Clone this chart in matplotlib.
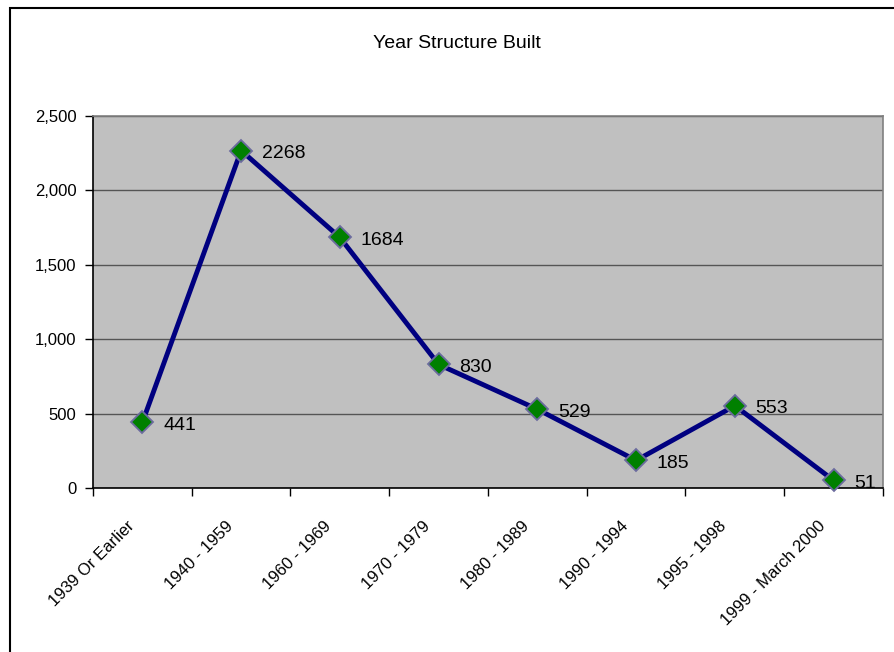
import matplotlib
matplotlib.use("Agg")
from matplotlib import pyplot as plt
from matplotlib.patches import Rectangle
from matplotlib.ticker import FuncFormatter
from matplotlib.transforms import ScaledTranslation

plt.rcParams['font.family'] = ['Liberation Sans Narrow', 'Liberation Sans', 'DejaVu Sans']

categories = ['1939 Or Earlier', '1940 - 1959', '1960 - 1969', '1970 - 1979',
              '1980 - 1989', '1990 - 1994', '1995 - 1998', '1999 - March 2000']
units = [441, 2268, 1684, 830, 529, 185, 553, 51]
y_ticks = [0, 500, 1000, 1500, 2000, 2500]

fig = plt.figure(figsize=(8.95, 6.52), dpi=100)

# outer chart frame (left/top edges visible)
fig.patches.append(Rectangle((10 / 895, -0.05), 1.1, 1 - 8 / 652 + 0.05,
                             transform=fig.transFigure, fill=False,
                             edgecolor='black', linewidth=1.5))

ax = fig.add_axes([93 / 895, 1 - 488 / 652, 790 / 895, 372 / 652])
ax.set_facecolor('#C0C0C0')

x = list(range(len(categories)))
ax.plot(x, units, color='#000080', linewidth=3.5, marker='D', markersize=11,
        markerfacecolor='#008000', markeredgecolor='#6B6B9E', markeredgewidth=1.3,
        zorder=3, clip_on=False)

for xi, v in zip(x, units):
    ax.annotate(str(v), (xi, v), xytext=(15, -2), textcoords='offset points',
                ha='left', va='center', fontsize=14, color='black')

ax.set_xlim(-0.5, len(categories) - 0.5)
ax.set_ylim(0, 2500)
ax.set_yticks(y_ticks)
ax.yaxis.set_major_formatter(FuncFormatter(lambda v, p: f'{int(v):,}'))
ax.grid(axis='y', color='#555555', linewidth=1)
ax.set_axisbelow(True)

ax.set_xticks(x)
ax.set_xticklabels(categories, rotation=45, ha='right', rotation_mode='anchor',
                   fontsize=12)
ax.tick_params(axis='x', which='major', length=0, pad=22)
shift = ScaledTranslation(-16 / 100, 0, fig.dpi_scale_trans)
for lbl in ax.get_xticklabels():
    lbl.set_transform(lbl.get_transform() + shift)
ax.set_xticks([i - 0.5 for i in range(len(categories) + 1)], minor=True)
ax.tick_params(axis='x', which='minor', length=6, width=1, direction='out')
ax.tick_params(axis='y', length=6, width=1, direction='out', labelsize=12, pad=6)

ax.spines['left'].set_color('black')
ax.spines['bottom'].set_color('black')
ax.spines['top'].set_color('#808080')
ax.spines['right'].set_color('#808080')
for s in ax.spines.values():
    s.set_linewidth(1.2)

fig.text(457 / 895, 1 - 43 / 652, 'Year Structure Built', ha='center', va='center',
         fontsize=14)

fig.savefig('out.png', dpi=100)
